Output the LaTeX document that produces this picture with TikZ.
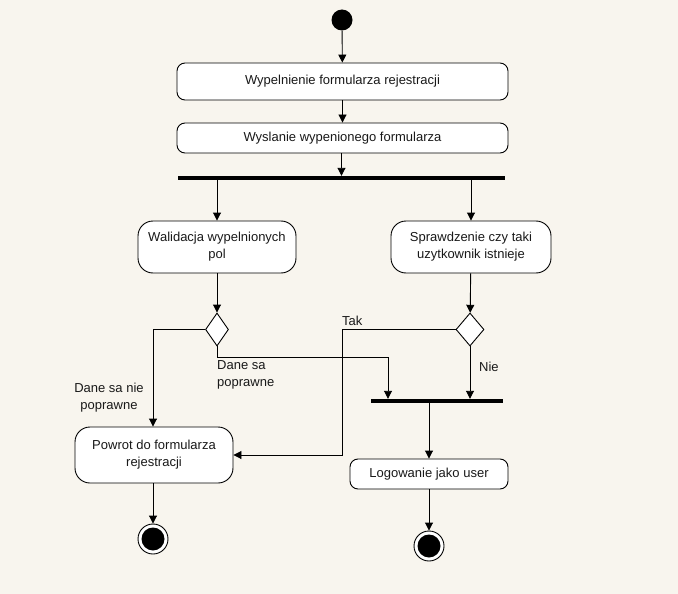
\documentclass[tikz,border=0pt]{standalone}
\usepackage{fontspec}
\setmainfont{Liberation Sans}
\usetikzlibrary{arrows.meta,shapes.geometric}
\definecolor{paper}{RGB}{248,245,238}
\begin{document}
\begin{tikzpicture}[x=1pt,y=-1pt,
  every node/.style={font=\fontsize{13}{17}\selectfont, text=black!90},
  act/.style={draw, line width=0.9pt, fill=white, rounded corners=#1, align=center, inner sep=0pt},
  act/.default=8pt,
  bar/.style={fill=black, inner sep=0pt, minimum height=4pt},
  choice/.style={diamond, draw, line width=0.9pt, fill=white, inner sep=0pt},
  flow/.style={line width=0.9pt, -{Triangle[width=8pt,length=8pt]}},
  wire/.style={line width=0.9pt},
  lbl/.style={inner sep=0pt, align=center}]
  \useasboundingbox[fill=paper] (0,0) rectangle (678,594);

  % initial state
  \node[circle, fill=black, minimum size=21pt, inner sep=0pt] (start) at (342,20) {};

  % activities
  \node[act, minimum width=331pt, minimum height=37pt] (fill) at (342.5,81.5) {Wypelnienie formularza rejestracji};
  \node[act, minimum width=331pt, minimum height=30pt] (send) at (342.5,138) {Wyslanie wypenionego formularza};
  \node[bar, minimum width=327pt] (fork) at (341.5,178) {};
  \node[act=15pt, minimum width=158pt, minimum height=52pt] (valid) at (217,247) {Walidacja wypelnionych\\pol};
  \node[act=15pt, minimum width=160pt, minimum height=52pt] (exists) at (471,247) {Sprawdzenie czy taki\\uzytkownik istnieje};

  % decisions
  \node[choice, minimum width=23pt, minimum height=33pt] (d1) at (217,329.5) {};
  \node[choice, minimum width=28pt, minimum height=33pt] (d2) at (470,329.5) {};

  % join and remaining activities
  \node[bar, minimum width=132pt] (join) at (437,401) {};
  \node[act=15pt, minimum width=158pt, minimum height=56pt] (back) at (154,455) {Powrot do formularza\\rejestracji};
  \node[act, minimum width=158pt, minimum height=30pt] (login) at (429,474) {Logowanie jako user};

  % final states
  \node[circle, draw, line width=0.9pt, fill=white, minimum size=30pt, inner sep=0pt] (end1) at (153,539) {};
  \node[circle, fill=black, minimum size=23pt, inner sep=0pt] (end1in) at (end1.center) {};
  \node[circle, draw, line width=0.9pt, fill=white, minimum size=30pt, inner sep=0pt] (end2) at (429,546) {};
  \node[circle, fill=black, minimum size=23pt, inner sep=0pt] (end2in) at (end2.center) {};

  % routing points
  \coordinate (j1) at (388,357);
  \coordinate (j2) at (342,329.5);

  % main flow
  \draw[flow] (start) -- (fill);
  \draw[flow] (fill) -- (send);
  \draw[flow] (send.south -| fork.north) -- (fork.north);
  \draw[flow] (fork.south -| valid.north) -- (valid.north);
  \draw[flow] (fork.south -| exists.north) -- (exists.north);
  \draw[flow] (valid) -- (d1);
  \draw[flow] (exists) -- (d2);

  % branches
  \draw[flow] (d1.west) -| (back.north -| 153,0);
  \draw[wire] (d1.south) |- (j1);
  \draw[flow] (j1) -- (j1 |- join.north);
  \draw[wire] (d2.west) -- (j2);
  \draw[flow] (j2) |- (back.east);
  \draw[flow] (d2.south) -- (d2.south |- join.north);
  \draw[flow] (join.south -| login.north) -- (login.north);
  \draw[flow] (back.south -| end1.north) -- (end1.north);
  \draw[flow] (login) -- (end2.north);

  % guard labels
  \node[lbl, anchor=west] (tak) at (342,321) {Tak};
  \node[lbl, anchor=west] (nie) at (479,367) {Nie};
  \node[lbl, anchor=north west, align=left] (ok) at (217,360) {Dane sa\\poprawne};
  \node[lbl, anchor=north] (notok) at (109,383) {Dane sa nie\\poprawne};
\end{tikzpicture}
\end{document}
